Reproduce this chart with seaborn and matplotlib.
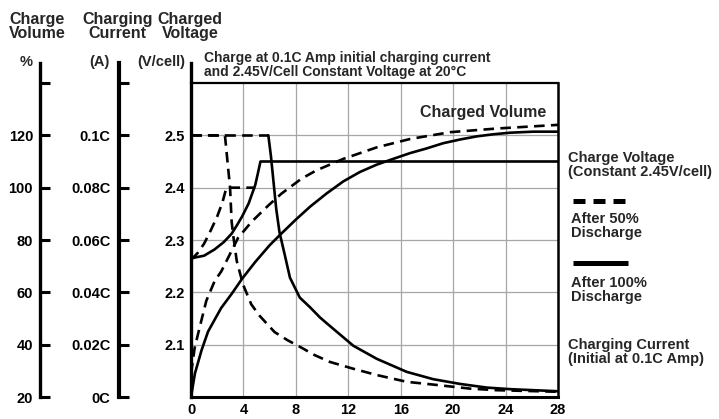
import matplotlib
matplotlib.use("Agg")
import matplotlib.pyplot as plt
from matplotlib.lines import Line2D
import seaborn as sns

# ---------------- data ----------------
hour_ticks = [0, 4, 8, 12, 16, 20, 24, 28]
volt_ticks = [2.1, 2.2, 2.3, 2.4, 2.5]
volt_labels = ["2.1", "2.2", "2.3", "2.4", "2.5"]
vol_ticks = [20, 40, 60, 80, 100, 120, 140]
vol_labels = ["20", "40", "60", "80", "100", "120", ""]
cur_ticks = [0, 0.02, 0.04, 0.06, 0.08, 0.10, 0.12]
cur_labels = ["0C", "0.02C", "0.04C", "0.06C", "0.08C", "0.1C", ""]

# Charge voltage (V/cell)
v100_h = [0, 1.0, 1.8, 2.5, 3.1, 3.5, 3.9, 4.4, 4.9, 5.1, 5.3, 28]
v100 = [2.265, 2.27, 2.282, 2.296, 2.312, 2.328, 2.345, 2.37, 2.405, 2.427,
        2.45, 2.45]
v50_h = [0, 0.5, 1.0, 1.5, 2.0, 2.4, 2.7, 4.9]
v50 = [2.262, 2.275, 2.293, 2.318, 2.345, 2.372, 2.40, 2.40]

# Charging current (C)
c100_h = [0, 5.9, 6.1, 6.3, 6.5, 6.75, 7.15, 7.55, 8.3, 9.1, 9.84, 10.35,
          12.38, 14.17, 16.46, 18.49, 20.52, 22.56, 24.34, 28]
c100 = [0.1, 0.1, 0.092, 0.082, 0.072, 0.063, 0.0544, 0.0456, 0.038, 0.0342,
        0.0304, 0.0282, 0.0196, 0.0146, 0.0096, 0.0068, 0.005, 0.0036, 0.003,
        0.0022]
c50_h = [0, 2.59, 2.85, 2.98, 3.1, 3.23, 3.49, 3.97, 4.6, 5.24, 6.38, 7.4,
         8.16, 9.44, 10.6, 12.38, 14.17, 16.46, 18.75, 21.29, 23.32, 28]
c50 = [0.1, 0.1, 0.0866, 0.08, 0.067, 0.0614, 0.052, 0.043, 0.0354, 0.031,
       0.0248, 0.0216, 0.0196, 0.016, 0.0134, 0.0108, 0.0084, 0.0058, 0.0046,
       0.0032, 0.0026, 0.002]

# Charged volume (%)
vol100_h = [0, 0.3, 0.8, 1.3, 2.3, 3.1, 3.9, 4.9, 6.0, 6.8, 8.0, 9.1, 10.35,
            11.62, 12.89, 14.17, 15.43, 16.71, 17.98, 19.25, 20.52, 21.8,
            23.06, 24.34, 26.1, 28]
vol100 = [20, 29, 37.8, 45, 54, 59.4, 65.2, 71.6, 78, 82, 87.8, 92.8, 97.8,
          102.4, 106, 108.8, 111, 113.2, 115, 117, 118.4, 119.6, 120.4, 121,
          121.4, 121.4]
vol50_h = [0, 0.28, 0.66, 1.17, 1.81, 2.31, 2.95, 3.59, 4.63, 5.9, 6.92, 8.42,
           9.56, 11.62, 14.17, 16.71, 19.76, 23.32, 28]
vol50 = [29, 38.8, 46.6, 56.8, 64.4, 68, 74.4, 80.8, 87, 93.2, 97.8, 103.4,
         106.6, 111, 115.4, 118.6, 121.2, 122.6, 124]

# ---------------- styling ----------------
sns.set_style("white")
plt.rcParams["font.family"] = ["Liberation Sans", "DejaVu Sans"]
plt.rcParams["font.weight"] = "bold"

W, H = 719, 419
fig = plt.figure(figsize=(W / 100, H / 100), dpi=100)


def fx(px):
    return px / W


def fy(py):
    return 1 - py / H


ax = fig.add_axes([fx(191), fy(397), (558 - 191) / W, (397 - 83) / H])
ax.set_xlim(0, 28)
ax.set_ylim(2.0, 2.6)

LW = 1.9
DASH = (0, (4.0, 2.4))
kw = dict(color="black", linewidth=LW, estimator=None, sort=False, legend=False)

ax.set_axisbelow(True)
ax.grid(True, color="#a6a6a6", linewidth=0.9)

sns.lineplot(x=v100_h, y=v100, ax=ax, **kw)
sns.lineplot(x=v50_h, y=v50, ax=ax, linestyle=DASH, **kw)

# spines of main axis
for side, lw in [("left", 2.4), ("bottom", 2.2), ("top", 1.6), ("right", 1.8)]:
    ax.spines[side].set_visible(True)
    ax.spines[side].set_linewidth(lw)
    ax.spines[side].set_color("black")
ax.spines["left"].set_bounds(2.0, 2.638)

ax.set_xticks(hour_ticks)
ax.set_xticklabels([str(h) for h in hour_ticks])
ax.set_yticks(volt_ticks)
ax.set_yticklabels(volt_labels)
ax.tick_params(axis="both", length=0, labelsize=10.5, colors="black")
ax.tick_params(axis="y", pad=4.3)
ax.tick_params(axis="x", pad=4)

# current axis
cur_ax = ax.twinx()
cur_ax.set_ylim(0, 0.12)
sns.lineplot(x=c100_h[:2], y=c100[:2], ax=cur_ax, linestyle=DASH, **kw)
sns.lineplot(x=c100_h[1:], y=c100[1:], ax=cur_ax, **kw)
sns.lineplot(x=c50_h, y=c50, ax=cur_ax, linestyle=DASH, **kw)

# volume axis
vol_ax = ax.twinx()
vol_ax.set_ylim(20, 140)
sns.lineplot(x=vol100_h, y=vol100, ax=vol_ax, **kw)
sns.lineplot(x=vol50_h, y=vol50, ax=vol_ax, linestyle=DASH, **kw)

for tax, pos, ticks, labels, slw, pad, top in [
    (cur_ax, -0.1975, cur_ticks, cur_labels, 3.0, 5.8, 0.1276),
    (vol_ax, -0.4114, vol_ticks, vol_labels, 2.4, 5.0, 147.6),
]:
    for s in ["top", "right", "bottom"]:
        tax.spines[s].set_visible(False)
    tax.spines["left"].set_visible(True)
    tax.spines["left"].set_position(("axes", pos))
    tax.spines["left"].set_linewidth(slw)
    tax.spines["left"].set_color("black")
    tax.spines["left"].set_bounds(ticks[0], top)
    tax.yaxis.tick_left()
    tax.yaxis.set_label_position("left")
    tax.set_yticks(ticks)
    tax.set_yticklabels(labels)
    tax.tick_params(axis="y", direction="in", length=7.2, width=2.2,
                    pad=pad, labelsize=10.5, colors="black")
    tax.set_ylabel("")
    tax.set_xlabel("")
ax.set_xlabel("")
ax.set_ylabel("")

# ---------------- texts ----------------
for cx, txt in [(37.5, "Charge\nVolume"), (117.5, "Charging\nCurrent"),
                (190, "Charged\nVoltage")]:
    fig.text(fx(cx), fy(12), txt, ha="center", va="top", fontsize=11.5,
             fontweight="bold", linespacing=0.95)
for rx, txt in [(33, "%"), (110, "(A)"), (185, "(V/cell)")]:
    fig.text(fx(rx), fy(62), txt, ha="right", va="center", fontsize=10.5,
             fontweight="bold")

fig.text(fx(204), fy(51),
         "Charge at 0.1C Amp initial charging current\n"
         "and 2.45V/Cell Constant Voltage at 20°C",
         ha="left", va="top", fontsize=10, fontweight="bold", linespacing=1.0)
fig.text(fx(420), fy(112), "Charged Volume", ha="left", va="center",
         fontsize=11.5, fontweight="bold")

for (px, py), txt in [((568, 151), "Charge Voltage\n(Constant 2.45V/cell)"),
                      ((571, 212), "After 50%\nDischarge"),
                      ((571, 276), "After 100%\nDischarge"),
                      ((568, 338), "Charging Current\n(Initial at 0.1C Amp)")]:
    fig.text(fx(px), fy(py), txt, ha="left", va="top", fontsize=10.5,
             fontweight="bold", linespacing=1.0)

fig.add_artist(Line2D([fx(573), fx(625)], [fy(200.7), fy(200.7)], color="black",
                      linewidth=3.6, linestyle=(0, (2.4, 1.6)),
                      solid_capstyle="butt", dash_capstyle="butt"))
fig.add_artist(Line2D([fx(573), fx(628)], [fy(262.7), fy(262.7)], color="black",
                      linewidth=3.6, solid_capstyle="butt"))

fig.savefig("out.png", dpi=100)
